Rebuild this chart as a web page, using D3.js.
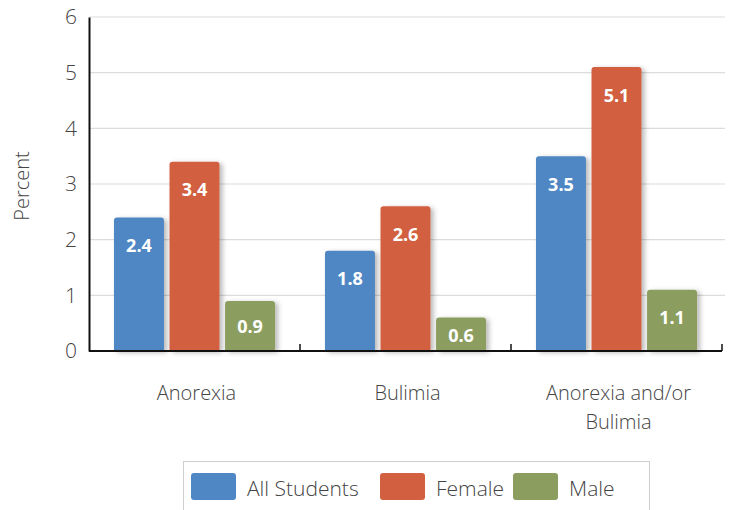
<!DOCTYPE html>
<html>
<head>
<meta charset="utf-8">
<script src="https://cdn.jsdelivr.net/npm/d3@7"></script>
<style>
  html, body { margin: 0; padding: 0; background: #ffffff; }
  svg { display: block; font-family: "Open Sans", sans-serif; }
</style>
</head>
<body>
<svg id="chart" width="729" height="510"></svg>
<script>
// Eating disorder prevalence by group (percent)
const categories = [["Anorexia"], ["Bulimia"], ["Anorexia and/or", "Bulimia"]];
const seriesNames = ["All Students", "Female", "Male"];
const allStudents = [2.4, 1.8, 3.5];
const female = [3.4, 2.6, 5.1];
const male = [0.9, 0.6, 1.1];
const yTicks = [0, 1, 2, 3, 4, 5, 6];
const colors = ["#4f87c4", "#d25f40", "#8c9e5f"];

const series = [allStudents, female, male];
const svg = d3.select("#chart");

const margin = { left: 89, right: 7, top: 17, bottom: 159 };
const W = 729, H = 510;
const textColor = "#444444";

const x0 = d3.scaleBand()
  .domain(d3.range(categories.length))
  .range([margin.left, W - margin.right])
  .paddingInner(0).paddingOuter(0);

const x1 = d3.scaleBand()
  .domain(d3.range(seriesNames.length))
  .range([0, x0.bandwidth()])
  .paddingInner(0.1).paddingOuter(0.45);

const y = d3.scaleLinear().domain([0, 6]).range([H - margin.bottom, margin.top]);

// drop shadow for bars
const defs = svg.append("defs");
const f = defs.append("filter").attr("id", "shadow")
  .attr("x", "-20%").attr("y", "-20%").attr("width", "150%").attr("height", "150%");
f.append("feDropShadow").attr("dx", 3).attr("dy", 1.5)
  .attr("stdDeviation", 2.6).attr("flood-color", "#000").attr("flood-opacity", 0.28);

// gridlines
svg.append("g").selectAll("line")
  .data(yTicks.filter(d => d > 0))
  .join("line")
  .attr("x1", margin.left).attr("x2", W - 4)
  .attr("y1", d => y(d)).attr("y2", d => y(d))
  .attr("stroke", "#dcdcdc").attr("stroke-width", 1.2);

// y axis
const yAxis = svg.append("g")
  .attr("transform", `translate(${margin.left},0)`)
  .call(d3.axisLeft(y).tickValues(yTicks).tickSize(0).tickPadding(12).tickFormat(d3.format("d")));
yAxis.select(".domain").attr("stroke", "#111").attr("stroke-width", 2);
yAxis.selectAll("text").attr("font-size", 21).attr("fill", textColor)
  .attr("font-weight", 300)
  .attr("font-family", "'Open Sans', sans-serif");

svg.append("text")
  .attr("transform", `translate(29,${y(3) + 2}) rotate(-90)`)
  .attr("text-anchor", "middle")
  .attr("font-size", 20).attr("font-weight", 300).attr("fill", textColor)
  .text("Percent");

// bars
const bars = svg.append("g");
categories.forEach((cat, ci) => {
  series.forEach((vals, si) => {
    const v = vals[ci];
    const bx = x0(ci) + x1(si);
    const bw = x1.bandwidth();
    const top = y(v), bottom = y(0);
    const r = 3;
    const p = `M${bx},${bottom} L${bx},${top + r} Q${bx},${top} ${bx + r},${top} ` +
              `L${bx + bw - r},${top} Q${bx + bw},${top} ${bx + bw},${top + r} L${bx + bw},${bottom} Z`;
    bars.append("path").attr("d", p).attr("fill", colors[si]).attr("filter", "url(#shadow)");
    const cy = Math.min(top + 28, (top + bottom) / 2 + 1);
    bars.append("text")
      .attr("x", bx + bw / 2).attr("y", cy)
      .attr("dy", "0.36em")
      .attr("text-anchor", "middle")
      .attr("font-size", 18).attr("font-weight", 700).attr("fill", "#ffffff")
      .text(d3.format(".1f")(v));
  });
});

// x axis baseline and ticks
const xAxis = svg.append("g");
xAxis.append("line")
  .attr("x1", margin.left).attr("x2", W - margin.right)
  .attr("y1", y(0)).attr("y2", y(0))
  .attr("stroke", "#111").attr("stroke-width", 2);
xAxis.selectAll("line.tick")
  .data(d3.range(1, categories.length + 1))
  .join("line").attr("class", "tick")
  .attr("x1", i => x0(0) + i * x0.bandwidth()).attr("x2", i => x0(0) + i * x0.bandwidth())
  .attr("y1", y(0)).attr("y2", y(0) - 7)
  .attr("stroke", "#111").attr("stroke-width", 1.5);

// category labels
categories.forEach((lines, ci) => {
  const t = svg.append("text")
    .attr("x", x0(ci) + x0.bandwidth() / 2 + 2)
    .attr("y", 400)
    .attr("text-anchor", "middle")
    .attr("font-size", 20).attr("font-weight", 300).attr("fill", textColor);
  lines.forEach((ln, li) => {
    t.append("tspan").attr("x", x0(ci) + x0.bandwidth() / 2 + 2)
      .attr("dy", li === 0 ? 0 : 29).text(ln);
  });
});

// legend
const legend = svg.append("g");
legend.append("rect")
  .attr("x", 183.5).attr("y", 461.5).attr("width", 466).attr("height", 60)
  .attr("fill", "#ffffff").attr("stroke", "#cfcfcf").attr("stroke-width", 1);
const legendX = [191, 380, 513];
seriesNames.forEach((name, i) => {
  legend.append("rect")
    .attr("x", legendX[i]).attr("y", 473).attr("width", 45).attr("height", 27)
    .attr("rx", 3).attr("fill", colors[i]);
  legend.append("text")
    .attr("x", legendX[i] + 56).attr("y", 488).attr("dy", "0.36em")
    .attr("font-size", 21).attr("font-weight", 300).attr("fill", textColor)
    .text(name);
});
</script>
</body>
</html>
